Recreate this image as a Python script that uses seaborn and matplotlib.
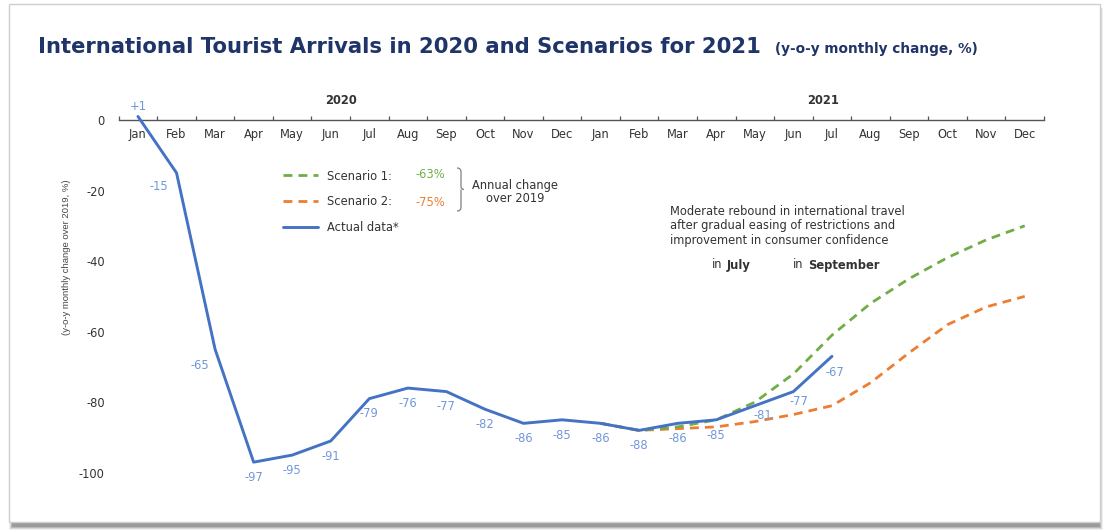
import matplotlib
matplotlib.use("Agg")
import matplotlib.pyplot as plt
from matplotlib.patches import Rectangle, PathPatch
from matplotlib.path import Path
import seaborn as sns
import pandas as pd
import numpy as np

# ---- data -------------------------------------------------------------
months = ["Jan", "Feb", "Mar", "Apr", "May", "Jun",
          "Jul", "Aug", "Sep", "Oct", "Nov", "Dec"]
year_labels = ["2020", "2021"]

actual = [1, -15, -65, -97, -95, -91, -79, -76, -77, -82, -86, -85,
          -86, -88, -86, -85, -81, -77, -67]
scenario1 = [-86, -88, -87, -85, -80, -72, -61, -52, -45, -39, -34, -30]
scenario2 = [-86, -88, -87.5, -87, -85.5, -83.5, -81, -74.5, -66, -58, -53, -50]
scenario1_annual = "-63%"
scenario2_annual = "-75%"
y_ticks = [0, -20, -40, -60, -80, -100]

# ---- style ------------------------------------------------------------
sns.set_theme(style="white")
plt.rcParams["font.family"] = ["DejaVu Sans"]

W, H = 1112, 532
fig = plt.figure(figsize=(W / 100, H / 100), dpi=100)
fig.patch.set_facecolor("white")


def fx(px):
    return px / W


def fy(py):
    return 1 - py / H


# card with soft shadow
for i, a in enumerate([0.10, 0.18, 0.28, 0.40]):
    fig.add_artist(Rectangle((fx(9 + i), fy(530 - i)), fx(1094 - 2 * i), fy(8) - fy(530 - i),
                             transform=fig.transFigure, facecolor="#6e6e6e",
                             edgecolor="none", alpha=a, zorder=-5))
fig.add_artist(Rectangle((fx(9), fy(522)), fx(1091), fy(4) - fy(522),
                         transform=fig.transFigure, facecolor="white",
                         edgecolor="#cfcfcf", lw=1.0, zorder=-4))

BLUE = "#4472C4"
GREEN = "#70AD47"
ORANGE = "#ED7D31"
LABEL_BLUE = "#7096DA"
NAVY = "#1F3468"
TXT = "#333333"
FS = 8.3

# axes: x positions 0..23 (Jan 2020 .. Dec 2021)
y_lo, y_hi = -110, 5
ax = fig.add_axes([fx(118.7), 24 / H, fx(925.3), (429.65 - 24) / H])
ax.set_facecolor("none")

n_total = 24
x_actual = np.arange(len(actual))
x_scen = np.arange(12, 24)

df_a = pd.DataFrame({"pos": x_actual, "val": actual})
df_s1 = pd.DataFrame({"pos": x_scen, "val": scenario1})
df_s2 = pd.DataFrame({"pos": x_scen, "val": scenario2})

sns.lineplot(data=df_s2, x="pos", y="val", ax=ax, color=ORANGE, lw=2.0,
             zorder=2, label="Scenario 2:")
sns.lineplot(data=df_s1, x="pos", y="val", ax=ax, color=GREEN, lw=2.0,
             zorder=3, label="Scenario 1:")
sns.lineplot(data=df_a, x="pos", y="val", ax=ax, color=BLUE, lw=2.1,
             zorder=4, label="Actual data*")
for ln in ax.lines[:2]:
    ln.set_linestyle((0, (3.2, 2.2)))

ax.set_xlim(-0.5, n_total - 0.5)
ax.set_ylim(y_lo, y_hi)

# x axis drawn along y = 0
for s in ["top", "right", "left"]:
    ax.spines[s].set_visible(False)
ax.spines["bottom"].set_position(("data", 0))
ax.spines["bottom"].set_color("#555555")
ax.spines["bottom"].set_linewidth(1.0)
ax.set_xticks(np.arange(n_total))
ax.set_xticklabels(months * 2)
ax.set_xticks(np.arange(-0.5, n_total), minor=True)
ax.tick_params(axis="x", which="major", length=0, pad=5.5, labelsize=FS, labelcolor=TXT)
ax.tick_params(axis="x", which="minor", length=3, width=0.9, color="#555555",
               direction="in", bottom=True)
ax.set_yticks(y_ticks)
ax.set_yticklabels([str(v) for v in y_ticks])
ax.tick_params(axis="y", length=0, pad=10, labelsize=FS, labelcolor=TXT)
ax.grid(False)
ax.set_xlabel("")
ax.set_ylabel("(y-o-y monthly change over 2019, %)", fontsize=6.8, color="#444444",
              family=["Liberation Sans", "DejaVu Sans"])
ax.yaxis.set_label_coords(-0.052, 0.619)

# year headings
for i, yl in enumerate(year_labels):
    ax.text(5.26 + 12.5 * i, 5.4, yl, ha="center", va="center",
            fontsize=FS, fontweight="bold", color=TXT)

# value labels on the actual series
offsets = {0: (0, 7), 1: (-13, -9.5), 2: (-11, -11.5), 16: (6, -7), 17: (4, -7), 18: (2, -11.5)}
for i, v in enumerate(actual):
    txt = f"+{v}" if v > 0 else f"{v}"
    dx, dy = offsets.get(i, (0, -11))
    ax.annotate(txt, (x_actual[i], v), xytext=(dx, dy), textcoords="offset points",
                ha="center", va="center", fontsize=FS, color=LABEL_BLUE,
                annotation_clip=False, zorder=5)

# legend
leg = ax.legend(handles=[ax.lines[1], ax.lines[0], ax.lines[2]],
                labels=["Scenario 1:", "Scenario 2:", "Actual data*"],
                loc="upper left", bbox_to_anchor=(fx(283), fy(169.5)),
                bbox_transform=fig.transFigure, frameon=False, fontsize=FS,
                handlelength=3.0, handletextpad=0.85, labelspacing=1.12,
                borderpad=0, borderaxespad=0)
for t in leg.get_texts():
    t.set_color(TXT)

fig.text(fx(415), fy(175), scenario1_annual, color=GREEN, fontsize=FS, va="center")
fig.text(fx(415), fy(202), scenario2_annual, color=ORANGE, fontsize=FS, va="center")

# thin curly brace grouping both scenarios
bx0, bx1, bt, bb = 457, 464, 168, 211
bm = (bt + bb) / 2
verts = [(bx0, bt), (bx0 + 4, bt), (bx0 + 4, bt + 4), (bx0 + 4, bt + 8),
         (bx0 + 4, bm - 3), (bx0 + 4, bm), (bx1, bm),
         (bx0 + 4, bm), (bx0 + 4, bm + 3), (bx0 + 4, bb - 8),
         (bx0 + 4, bb - 4), (bx0 + 4, bb), (bx0, bb)]
codes = [Path.MOVETO, Path.CURVE3, Path.CURVE3, Path.LINETO,
         Path.LINETO, Path.CURVE3, Path.CURVE3,
         Path.MOVETO, Path.CURVE3, Path.LINETO,
         Path.LINETO, Path.CURVE3, Path.CURVE3]
brace = Path([(fx(a), fy(b)) for a, b in verts], codes)
fig.add_artist(PathPatch(brace, transform=fig.transFigure, facecolor="none",
                         edgecolor="#808080", lw=0.9))
fig.text(fx(515), fy(186), "Annual change", fontsize=FS, color=TXT, ha="center", va="center")
fig.text(fx(515), fy(198), "over 2019", fontsize=FS, color=TXT, ha="center", va="center")

# commentary
fig.text(fx(670), fy(205), "Moderate rebound in international travel\n"
         "after gradual easing of restrictions and\n"
         "improvement in consumer confidence",
         fontsize=FS, color=TXT, ha="left", va="top", linespacing=1.15)
fig.text(fx(712), fy(265), "in", fontsize=FS, color=TXT, va="center")
fig.text(fx(727), fy(265), "July", fontsize=FS, color=TXT, va="center", fontweight="bold")
fig.text(fx(793), fy(265), "in", fontsize=FS, color=TXT, va="center")
fig.text(fx(808), fy(265), "September", fontsize=FS, color=TXT, va="center", fontweight="bold")

# title
fig.text(fx(38), fy(47), "International Tourist Arrivals in 2020 and Scenarios for 2021",
         fontsize=15.2, fontweight="bold", color=NAVY, va="center", ha="left")
fig.text(fx(775), fy(49), "(y-o-y monthly change, %)",
         fontsize=9.8, fontweight="bold", color=NAVY, va="center", ha="left")

fig.savefig("out.png", dpi=100, facecolor=fig.get_facecolor())
